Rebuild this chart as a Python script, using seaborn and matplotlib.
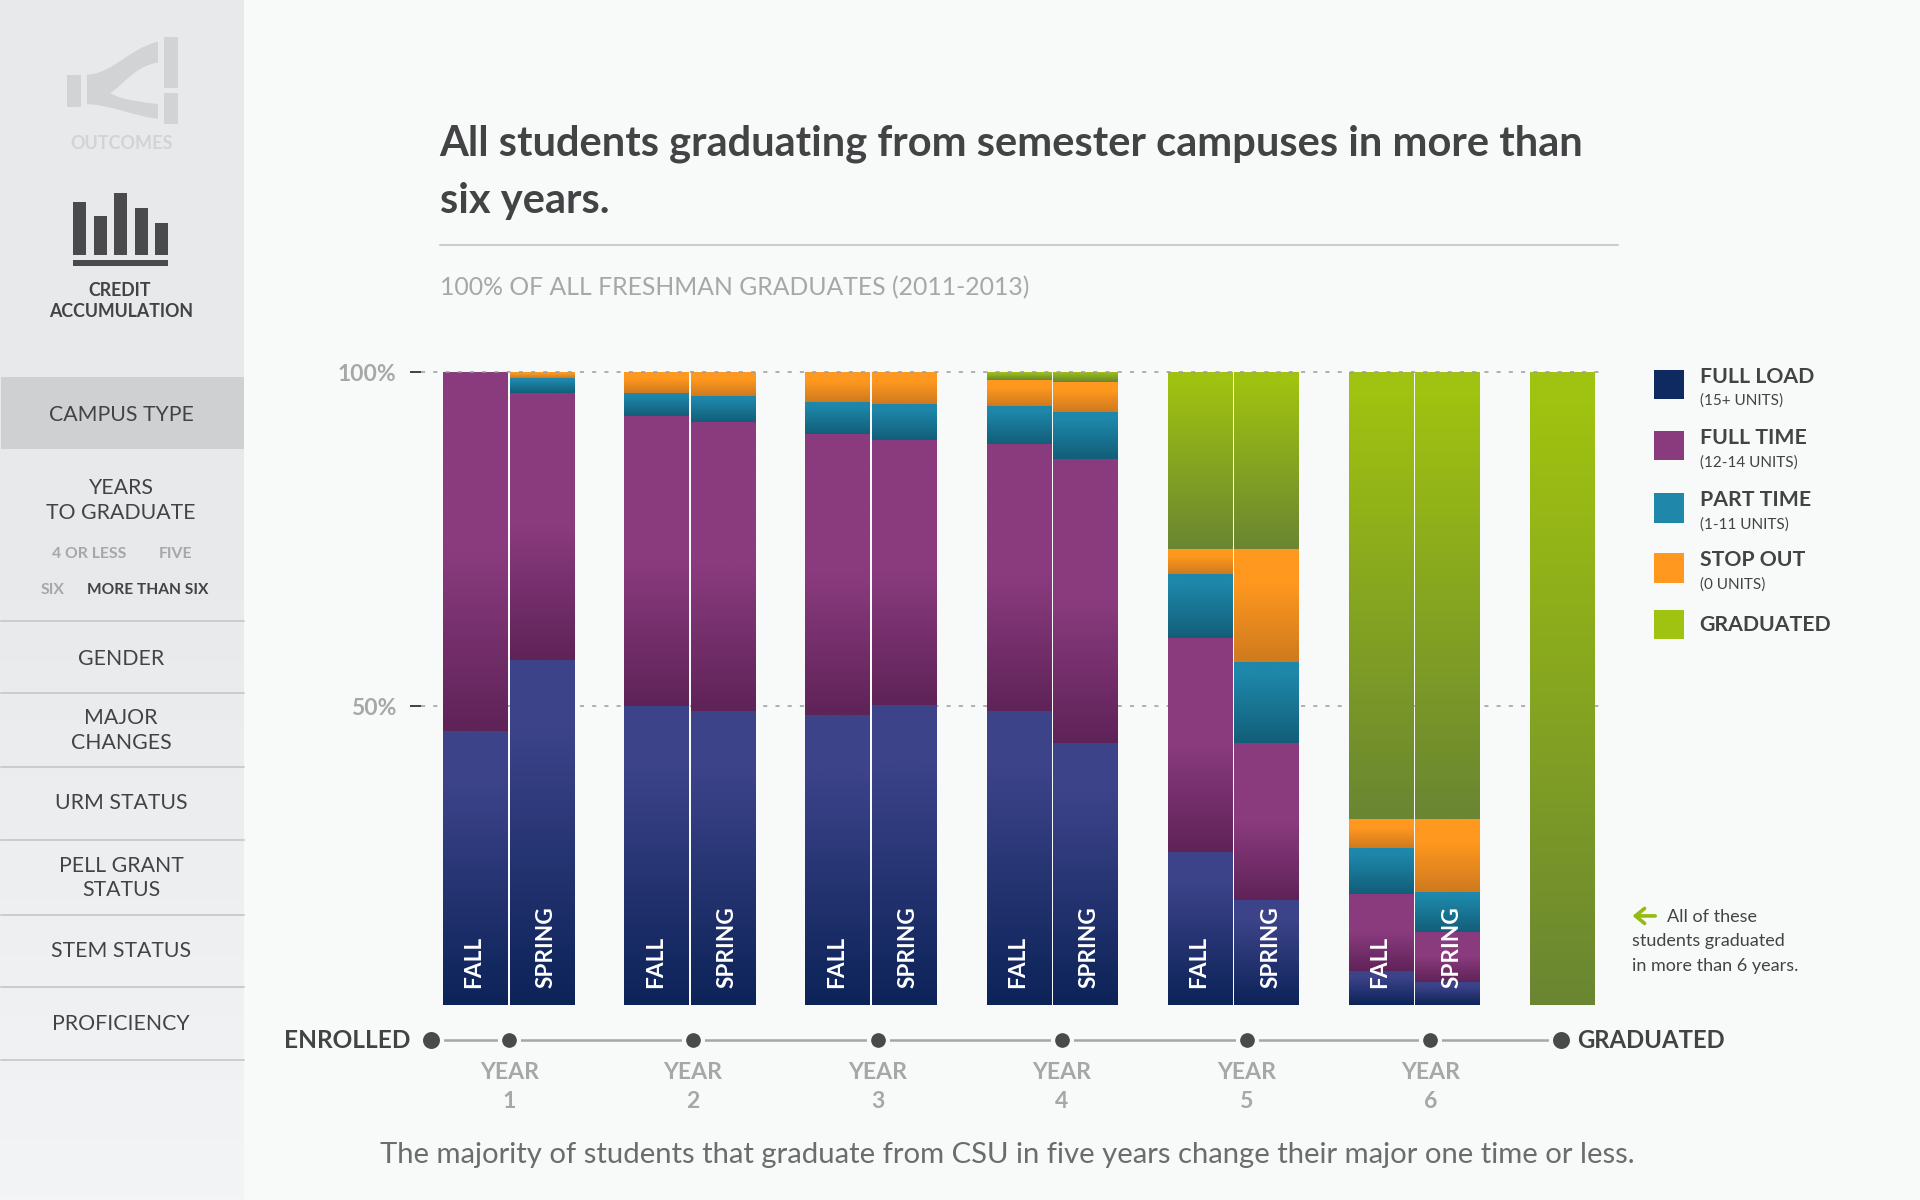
"""
Credit accumulation chart: students graduating in more than six years
"""

import numpy as np
import pandas as pd
import matplotlib.pyplot as plt
import seaborn as sns
from matplotlib.colors import LinearSegmentedColormap
from matplotlib.patches import PathPatch, Rectangle
from matplotlib.path import Path

# Share of students per term, percent, read against the 50% and 100% ticks
terms = ['Y1 Fall', 'Y1 Spring', 'Y2 Fall', 'Y2 Spring', 'Y3 Fall', 'Y3 Spring',
         'Y4 Fall', 'Y4 Spring', 'Y5 Fall', 'Y5 Spring', 'Y6 Fall', 'Y6 Spring', 'Graduated']
full_load = [46.3, 57.0, 50.0, 49.3, 48.7, 50.2, 49.3, 44.5, 28.2, 21.1, 10.4, 8.8, 0]
full_time = [53.7, 39.9, 43.4, 43.2, 42.1, 39.7, 39.9, 42.5, 32.1, 23.4, 11.6, 7.5, 0]
part_time = [0, 2.2, 3.5, 4.0, 4.8, 5.3, 5.7, 7.0, 9.5, 12.1, 6.9, 6.0, 0]
stop_out = [0, 0.9, 3.1, 3.5, 4.4, 4.8, 4.0, 4.5, 3.8, 17.0, 4.3, 10.9, 0]
graduated = [0, 0, 0, 0, 0, 0, 1.1, 1.5, 26.4, 26.4, 66.8, 66.8, 100]

series_names = ['FULL LOAD', 'FULL TIME', 'PART TIME', 'STOP OUT', 'GRADUATED']
series_units = ['(15+ UNITS)', '(12-14 UNITS)', '(1-11 UNITS)', '(0 UNITS)', '']
series_top = ['#3c4389', '#8a3b7e', '#1e87aa', '#ff981f', '#a0c210']
series_bottom = ['#0c2358', '#5f2358', '#125e78', '#cf7a1e', '#6a8632']
series_flat = [0.2, 0.5, 0.15, 0.3, 0.05]
legend_colors = ['#0f2a60', '#8a3b7e', '#1e87aa', '#ff981f', '#a0c210']

nav_items = ['GENDER', 'MAJOR\nCHANGES', 'URM STATUS', 'PELL GRANT\nSTATUS',
             'STEM STATUS', 'PROFICIENCY']
year_labels = ['YEAR\n1', 'YEAR\n2', 'YEAR\n3', 'YEAR\n4', 'YEAR\n5', 'YEAR\n6']

BG = '#f8faf9'
DARK = '#434345'
GREY = '#a6a7a9'
FONT = 'Lato'

sns.set_theme(style='white')
plt.rcParams['font.family'] = [FONT, 'DejaVu Sans']

fig = plt.figure(figsize=(19.2, 12), dpi=100, facecolor=BG)

# Page layer, in units of a 1568x980 layout
page = fig.add_axes([0, 0, 1, 1], zorder=0)
page.set_xlim(0, 1568)
page.set_ylim(980, 0)
page.axis('off')


def put(x, y, s, size, color=DARK, weight='normal', ha='center', **kws):
    return page.text(x, y + 1.5, s, fontsize=size, color=color, fontweight=weight,
                     ha=ha, va='center', **kws)


# Sidebar
side_cmap = LinearSegmentedColormap.from_list('side', ['#e8e9eb', '#e9eaec', '#f3f4f5'])
page.imshow(np.linspace(0, 1, 256).reshape(-1, 1), cmap=side_cmap, aspect='auto',
            extent=(0, 199, 980, 0), zorder=0)
page.set_xlim(0, 1568)
page.set_ylim(980, 0)
page.add_patch(Rectangle((1, 308), 198, 59, color='#cfd0d2', lw=0, zorder=1))
for sep in [507, 566, 626, 686, 747, 806, 866]:
    page.plot([1, 199], [sep, sep], color='#cbccce', lw=1.4, zorder=1)

# Outcomes icon
ICON_LIGHT = '#d2d3d5'
for x0, y0, w, h in [(55, 61, 11, 26), (134, 30, 11, 42), (134, 76, 11, 25)]:
    page.add_patch(Rectangle((x0, y0), w, h, color=ICON_LIGHT, lw=0))
flow = Path([(71, 61), (92, 60), (105, 40), (129, 34), (129, 51), (110, 54), (100, 70), (90, 76),
             (100, 82), (115, 83), (129, 85), (129, 97), (110, 95), (92, 86), (71, 85), (71, 61)],
            [Path.MOVETO, Path.CURVE4, Path.CURVE4, Path.CURVE4, Path.LINETO, Path.CURVE4, Path.CURVE4,
             Path.CURVE4, Path.CURVE4, Path.CURVE4, Path.CURVE4, Path.LINETO, Path.CURVE4, Path.CURVE4,
             Path.CURVE4, Path.CLOSEPOLY])
page.add_patch(PathPatch(flow, color=ICON_LIGHT, lw=0))
put(99, 116, 'OUTCOMES', 13, color='#d2d3d5', weight='bold')

# Credit accumulation icon
for x0, top in [(60, 165), (77, 176), (93.5, 158), (110, 170), (126.5, 182)]:
    page.add_patch(Rectangle((x0, top), 10.5, 208.5 - top, color='#4a4a4c', lw=0))
page.add_patch(Rectangle((59.5, 212), 78, 5, color='#4a4a4c', lw=0))
put(98, 235.5, 'CREDIT', 12.8, weight='bold')
put(99, 252.5, 'ACCUMULATION', 12.8, weight='bold')

put(99, 337.5, 'CAMPUS TYPE', 15.3)
put(99, 407.5, 'YEARS\nTO GRADUATE', 15.3, linespacing=1.3)
put(73, 451, '4 OR LESS', 11.3, color=GREY, weight='bold')
put(143, 451, 'FIVE', 11.3, color=GREY, weight='bold')
put(43, 480, 'SIX', 11.3, color=GREY, weight='bold')
put(120.5, 480, 'MORE THAN SIX', 11.2, weight='bold')
for label, y in zip(nav_items, [537, 595, 654, 715.5, 775, 835]):
    put(99, y, label, 15.3, linespacing=1.3)

# Header
put(359, 116, 'All students graduating from semester campuses in more than', 30,
    weight='bold', ha='left')
put(359, 162.5, 'six years.', 30, weight='bold', ha='left')
page.plot([359, 1321], [200, 200], color='#cbcccd', lw=1.5)
put(359, 233.5, '100% OF ALL FRESHMAN GRADUATES (2011-2013)', 17.8, color=GREY, ha='left')

# Stacked bars: one unit is the distance between a fall and a spring bar
chart = fig.add_axes([344 / 1568, 1 - 821 / 980, (1311 - 344) / 1568, (821 - 304) / 980], zorder=1)
chart.patch.set_alpha(0)

group_step = 2.714
bar_width = 0.965
y_floor = 5.3  # the bars are cut off a little above zero
positions = []
for year in range(6):
    positions += [year * group_step, year * group_step + 1]
positions.append(16.28)

df = pd.DataFrame({'term': terms, 'pos': positions})
stack = np.zeros(len(terms))
layers = []
for name, values in zip(series_names, [full_load, full_time, part_time, stop_out, graduated]):
    layers.append((name, stack.copy(), stack + np.array(values)))
    stack = stack + np.array(values)

for i, (name, lower, upper) in reversed(list(enumerate(layers))):
    df['top'] = upper
    n_before = len(chart.patches)
    sns.barplot(data=df, x='pos', y='top', native_scale=True, width=bar_width,
                color=series_top[i], saturation=1, linewidth=0, ax=chart, legend=False)
    # Fade each segment towards a darker shade at its foot
    cmap = LinearSegmentedColormap.from_list(
        name, [(0, series_top[i]), (series_flat[i], series_top[i]), (1, series_bottom[i])])
    for patch, low, high in zip(chart.patches[n_before:], lower, upper):
        if high - low <= 0:
            continue
        chart.imshow(np.linspace(0, 1, 128).reshape(-1, 1), cmap=cmap, aspect='auto',
                     extent=(patch.get_x(), patch.get_x() + patch.get_width(), max(low, y_floor), high),
                     zorder=2 + i * 0.01, interpolation='bilinear')

chart.set_xlim((344 - 388.2) / 54.5, (1311 - 388.2) / 54.5)
chart.set_ylim(y_floor, 100)
chart.axhline(50, color='#9b9b9b', lw=1.1, ls=(0, (2.7, 5.3)), zorder=1)
chart.axhline(100, color='#9b9b9b', lw=1.1, ls=(0, (2.7, 5.3)), zorder=3, clip_on=False)
sns.despine(ax=chart, left=True, bottom=True)
chart.set_xlabel('')
chart.set_ylabel('')
chart.set_xticks([])
chart.set_yticks([50, 100], labels=['50%', '100%'])
chart.tick_params(axis='y', left=True, length=8, width=1.3, color='#333333', pad=10,
                  labelsize=16.5, labelcolor=GREY)
for tick in chart.get_yticklabels():
    tick.set_fontweight('bold')

for i, pos in enumerate(positions[:-1]):
    is_spring = i % 2 == 1
    chart.text(pos + (0.06 if is_spring else -0.02), 7.9, 'SPRING' if is_spring else 'FALL',
               rotation=90, ha='center', va='bottom', color='white', fontsize=16.3,
               fontweight='bold', zorder=5)

# Timeline
year_x = [416, 566, 717, 867, 1018, 1168]
line_y = 849
page.plot([352, 1275], [line_y, line_y], color='#a5a6a8', lw=1.8, zorder=2)
page.scatter(year_x, [line_y] * 6, s=185, color='#4a4a4c', edgecolors=BG, linewidths=3, zorder=3)
page.scatter([352, 1275], [line_y] * 2, s=231, color='#4a4a4c', edgecolors=BG, linewidths=3, zorder=3)
put(335, line_y - 1, 'ENROLLED', 17.6, weight='bold', ha='right')
put(1288, line_y - 1, 'GRADUATED', 17.2, weight='bold', ha='left')
for x, label in zip(year_x, year_labels):
    put(x, 886, label, 16.6, color=GREY, weight='bold', linespacing=1.45)

put(823, 942, 'The majority of students that graduate from CSU in five years change their major one time or less.',
    21.1, color='#6b6c6e')

# Legend
legend_y = [314, 364, 415, 464, 510]
for y, name, units, color in zip(legend_y, series_names, series_units, legend_colors):
    page.add_patch(Rectangle((1351, y - 12), 24, 24, color=color, lw=0))
    if units:
        put(1388, y - 8, name, 15.3, weight='bold', ha='left')
        put(1388, y + 12, units, 11, ha='left')
    else:
        put(1388, y - 1, name, 15.3, weight='bold', ha='left')

# Note beside the graduated bar
page.annotate('', xy=(1331, 748), xytext=(1354, 748),
              arrowprops=dict(arrowstyle='->,head_width=0.45,head_length=0.55', color='#93bb10', lw=2.6))
put(1361, 747, 'All of these', 13, ha='left')
put(1333, 767, 'students graduated', 13, ha='left')
put(1333, 787, 'in more than 6 years.', 13, ha='left')

fig.savefig('out.png', dpi=100, facecolor=BG)
